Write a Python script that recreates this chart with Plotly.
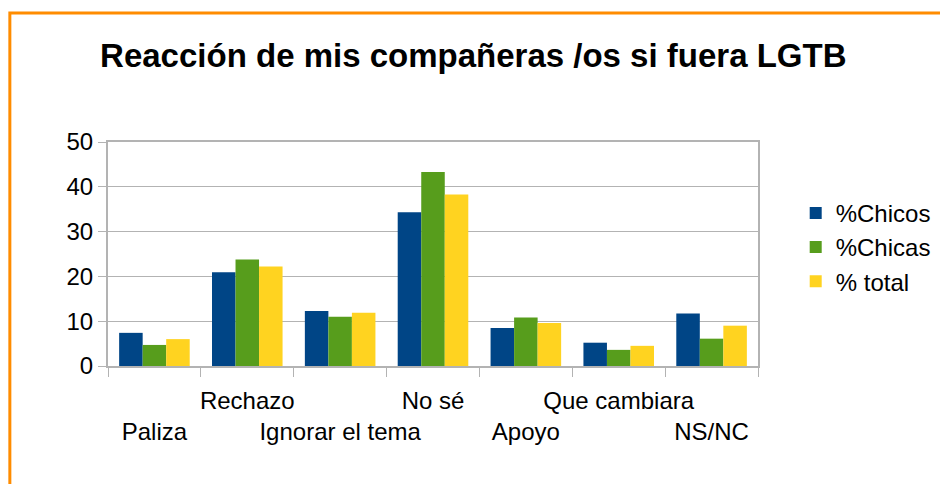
import plotly.graph_objects as go

categorias = ["Paliza", "Rechazo", "Ignorar el tema", "No sé", "Apoyo", "Que cambiara", "NS/NC"]
chicos = [7.4, 20.9, 12.3, 34.3, 8.5, 5.2, 11.7]
chicas = [4.7, 23.8, 11.0, 43.3, 10.8, 3.6, 6.1]
total = [6.0, 22.2, 11.9, 38.3, 9.6, 4.5, 9.0]
y_ticks = [0, 10, 20, 30, 40, 50]

# staggered labels: even ones go on the second line
tick_text = [c if i % 2 else "<br>" + c for i, c in enumerate(categorias)]

fig = go.Figure()
series = [("%Chicos", chicos, "#004586"), ("%Chicas", chicas, "#579d1c"), ("% total", total, "#ffd320")]
for name, vals, col in series:
    fig.add_trace(go.Bar(x=categorias, y=vals, name=name, marker=dict(color=col, line=dict(width=0))))

# orange frame of the original chart
fig.add_shape(type="rect", xref="paper", yref="paper",
              x0=-0.151, x1=1.5, y0=-1.0, y1=1.576,
              line=dict(color="#ff8c00", width=3), fillcolor="rgba(0,0,0,0)", layer="below")

fig.update_layout(
    width=940, height=476,
    margin=dict(l=100, r=187, t=134, b=118),
    paper_bgcolor="white", plot_bgcolor="white",
    font=dict(family="Liberation Sans, Arial, sans-serif", size=24, color="black"),
    title=dict(text="<b>Reacción de mis compañeras /os si fuera LGTB</b>",
               x=0.495, xref="container", xanchor="center", y=0.901, yanchor="middle",
               font=dict(size=33, color="black")),
    barmode="group", bargap=0.24, bargroupgap=0,
    legend=dict(x=1.058, y=0.53, xanchor="left", yanchor="middle",
                font=dict(size=24), itemwidth=30, tracegroupgap=4),
    showlegend=True,
)
fig.update_xaxes(
    tickmode="array", tickvals=categorias, ticktext=tick_text, tickangle=0,
    tickson="boundaries", ticks="outside", ticklen=9, tickcolor="#b3b3b3",
    ticklabelstandoff=12,
    showline=True, linecolor="#b3b3b3", linewidth=2, mirror=True,
    showgrid=False, tickfont=dict(size=24), automargin=False,
)
fig.update_yaxes(
    range=[0, 50], tickvals=y_ticks, ticks="outside", ticklen=8, tickcolor="#b3b3b3",
    showgrid=True, gridcolor="#b3b3b3", gridwidth=1,
    showline=True, linecolor="#b3b3b3", linewidth=2, mirror=True,
    zeroline=False, tickfont=dict(size=24), automargin=False,
)

fig.write_html("out.html")
